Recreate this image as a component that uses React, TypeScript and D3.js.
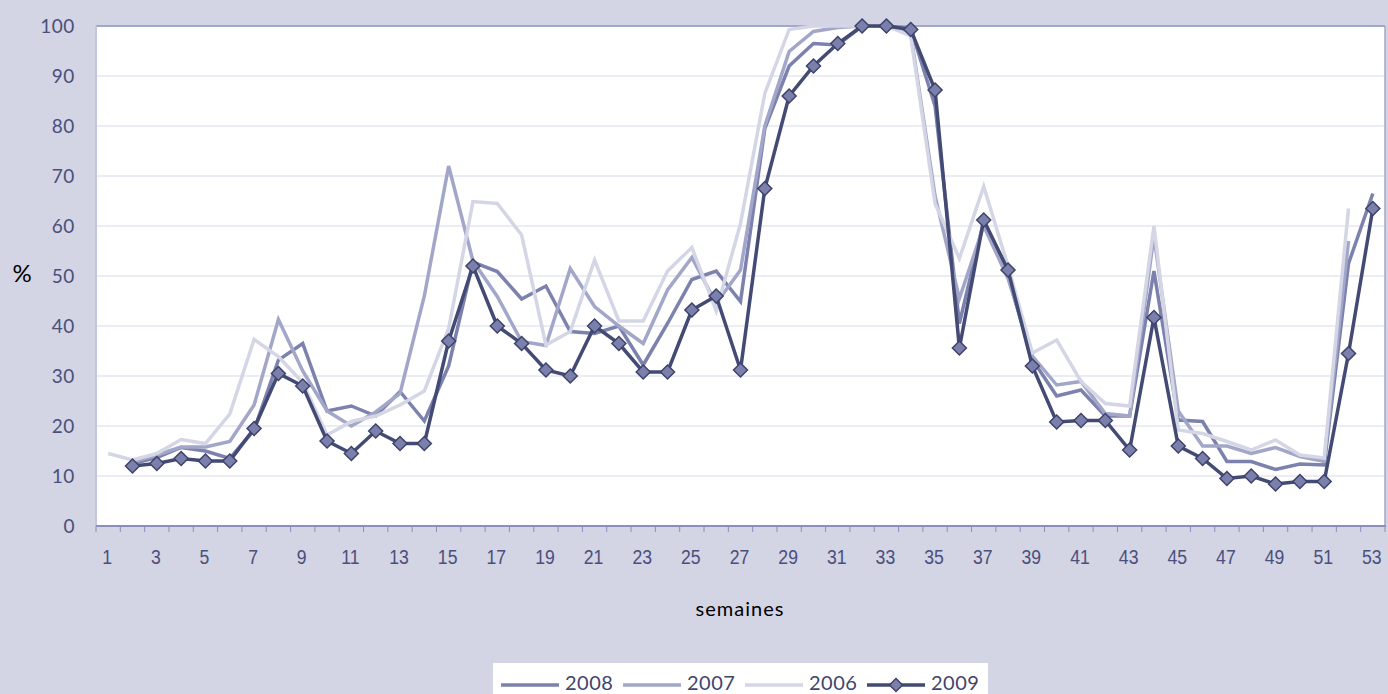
import React from "react";
import * as d3 from "d3";

// weeks 1..53
const weeks = d3.range(1, 54);
const yTicks = [0, 10, 20, 30, 40, 50, 60, 70, 80, 90, 100];

const s2008 = [null, 12.5, 13.7, 15.7, 15, 13.5, 19.2, 33.2, 36.5, 23, 24, 22, 26.9, 21, 32, 52.8, 50.9, 45.4, 48, 38.9, 38.5, 40, 32.2, 40.5, 49.3, 51, 44.9, 79.5, 92, 96.5, 96.2, 100, 100, 99.5, 84, 40.5, 61, 50, 33.3, 26, 27.2, 22, 22, 51, 21.2, 20.9, 12.9, 12.9, 11.3, 12.4, 12.2, 52.5, 66.5];
const s2007 = [null, 12.8, 14.2, 15.8, 15.8, 16.9, 24.2, 41.3, 31, 23, 20, 22.8, 26.5, 46, 72, 53, 45.9, 36.9, 36.1, 51.5, 43.9, 40, 36.5, 47.2, 53.7, 44.5, 51.2, 80, 94.9, 98.9, 99.7, 100, 100, 98.5, 66, 45.5, 60, 49.5, 34, 28.2, 28.9, 22.5, 22, 58, 23, 16, 16, 14.5, 15.7, 13.9, 12.9, 57, null];
const s2006 = [14.5, 13.2, 14.5, 17.3, 16.5, 22.4, 37.3, 33.9, 28.7, 18.2, 20.9, 22, 24.2, 27, 39.5, 64.9, 64.5, 58.2, 36.2, 38.9, 53.2, 41, 41, 51, 55.7, 43, 60.5, 86.5, 99.3, 100, 100, 100, 100, 98, 64.5, 53.5, 67.9, 52, 34.6, 37.2, 28.9, 24.5, 24, 60, 19.2, 18.5, 16.9, 15.2, 17.2, 14.2, 13.6, 63.5, null];
const s2009 = [null, 12, 12.5, 13.5, 13, 13, 19.5, 30.5, 28, 17, 14.5, 19, 16.5, 16.5, 37, 52, 40, 36.5, 31.2, 30, 40, 36.5, 30.8, 30.8, 43.2, 46, 31.2, 67.5, 86, 92, 96.5, 100, 100, 99.3, 87.2, 35.6, 61.2, 51.2, 32, 20.8, 21.1, 21.1, 15.2, 41.7, 16, 13.5, 9.5, 10, 8.4, 8.9, 8.9, 34.5, 63.5];

const seriesNames = ["2008", "2007", "2006", "2009"];
const seriesData = [s2008, s2007, s2006, s2009];
const seriesColors = ["#7c81ad", "#a2a6c8", "#d4d6e6", "#434a74"];

const W = 1388;
const H = 694;
const plot = { left: 96, right: 1385, top: 26, bottom: 526 };

const App = () => {
  const x = d3
    .scaleBand()
    .domain(weeks.map(String))
    .range([plot.left, plot.right])
    .paddingInner(0)
    .paddingOuter(0);
  const y = d3.scaleLinear().domain([0, 100]).range([plot.bottom, plot.top]);
  const cx = (w) => x(String(w)) + x.bandwidth() / 2;

  const line = d3
    .line()
    .defined((d) => d.v != null)
    .x((d) => cx(d.w))
    .y((d) => y(d.v));

  const boundaries = weeks.map((w) => x(String(w))).concat([plot.right]);
  const diamond = (px, py, r) =>
    `M${px},${py - r}L${px + r},${py}L${px},${py + r}L${px - r},${py}Z`;

  // legend layout
  const legendX = [501, 623, 745, 867];

  return (
    <svg
      width={W}
      height={H}
      style={{ position: "absolute", left: 0, top: 0, display: "block" }}
    >
      <rect x={0} y={0} width={W} height={H} fill="#d3d4e4" />
      <rect
        x={plot.left}
        y={plot.top}
        width={plot.right - plot.left}
        height={plot.bottom - plot.top}
        fill="#ffffff"
      />
      {/* gridlines */}
      {yTicks.slice(1, -1).map((t) => (
        <line
          key={t}
          x1={plot.left}
          x2={plot.right}
          y1={y(t)}
          y2={y(t)}
          stroke="#d9d9ec"
          strokeWidth={1}
        />
      ))}
      {/* frame */}
      <line x1={plot.left} x2={plot.right} y1={plot.top} y2={plot.top} stroke="#a3a7c9" strokeWidth={2} />
      <line x1={plot.left} x2={plot.left} y1={plot.top} y2={plot.bottom} stroke="#c3c6dc" strokeWidth={2} />
      <line x1={plot.right} x2={plot.right} y1={plot.top} y2={plot.bottom} stroke="#a3a7c9" strokeWidth={1.5} />
      <line x1={plot.left} x2={plot.right + 1} y1={plot.bottom} y2={plot.bottom} stroke="#8a8fbb" strokeWidth={2} />
      {boundaries.map((b, i) => (
        <line key={i} x1={b} x2={b} y1={plot.bottom} y2={plot.bottom + 6} stroke="#8a8fbb" strokeWidth={1} />
      ))}

      {/* y tick labels */}
      {yTicks.map((t) => (
        <text
          key={t}
          x={75}
          y={y(t)}
          dy="0.36em"
          textAnchor="end"
          fontFamily="Lato, 'Open Sans', sans-serif"
          fontSize={19}
          letterSpacing={0.6}
          fill="#4a4f7c"
        >
          {t}
        </text>
      ))}

      {/* x tick labels */}
      {weeks
        .filter((w) => w % 2 === 1)
        .map((w) => (
          <text
            key={w}
            transform={`translate(${cx(w) - 1},${564}) scale(0.84,1)`}
            textAnchor="middle"
            fontFamily="'Liberation Sans', Arial, sans-serif"
            fontSize={21}
            fill="#4a4f7c"
          >
            {w}
          </text>
        ))}

      <text x={22} y={282} textAnchor="middle" fontFamily="Lato, sans-serif" fontSize={24} fill="#000">
        %
      </text>
      <text
        x={740}
        y={616}
        textAnchor="middle"
        fontFamily="Lato, sans-serif"
        fontSize={20}
        letterSpacing={1}
        fill="#000"
      >
        semaines
      </text>

      {/* series */}
      {seriesData.map((s, i) => (
        <path
          key={seriesNames[i]}
          d={line(s.map((v, k) => ({ w: weeks[k], v })))}
          fill="none"
          stroke={seriesColors[i]}
          strokeWidth={3.5}
          strokeLinejoin="miter"
        />
      ))}
      {s2009.map((v, k) =>
        v == null ? null : (
          <path
            key={k}
            d={diamond(cx(weeks[k]), y(v), 7)}
            fill="#7a7fac"
            stroke="#3d4369"
            strokeWidth={1.5}
          />
        )
      )}

      {/* legend */}
      <rect x={493} y={663} width={495} height={40} fill="#ffffff" />
      {seriesNames.map((n, i) => (
        <g key={n}>
          <line
            x1={legendX[i]}
            x2={legendX[i] + 58}
            y1={685}
            y2={685}
            stroke={seriesColors[i]}
            strokeWidth={3.5}
          />
          {i === 3 && (
            <path d={diamond(legendX[i] + 29, 685, 6.5)} fill="#7a7fac" stroke="#3d4369" strokeWidth={1.5} />
          )}
          <text
            x={legendX[i] + 64}
            y={690}
            fontFamily="Lato, sans-serif"
            fontSize={20}
            letterSpacing={0.5}
            fill="#3f4570"
          >
            {n}
          </text>
        </g>
      ))}
    </svg>
  );
};

export default App;
